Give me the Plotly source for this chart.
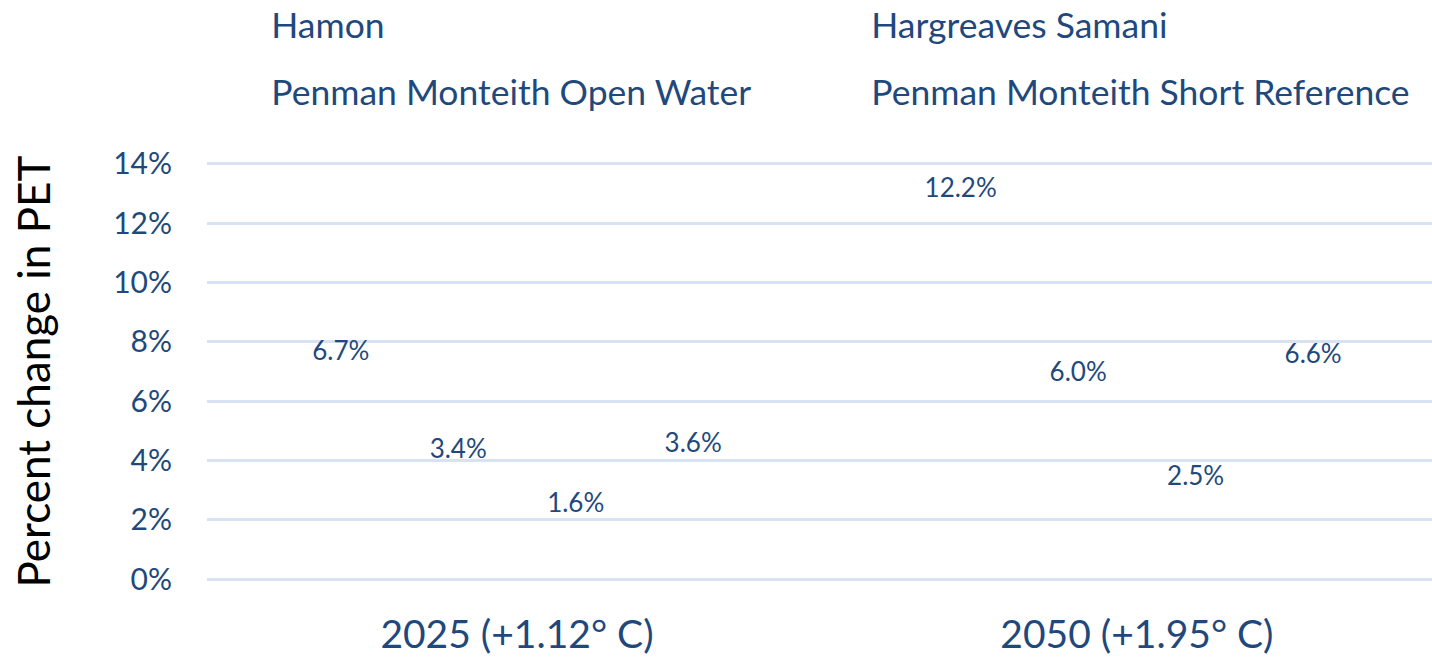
import plotly.graph_objects as go

categories = ["2025 (+1.12° C)", "2050 (+1.95° C)"]
series_names = ["Hamon", "Hargreaves Samani", "Penman Monteith Open Water", "Penman Monteith Short Reference"]
hamon = [6.7, 12.2]
hargreaves = [3.4, 6.0]
pm_open_water = [1.6, 2.5]
pm_short_ref = [3.6, 6.6]
y_ticks = [0, 2, 4, 6, 8, 10, 12, 14]
y_tick_labels = ["0%", "2%", "4%", "6%", "8%", "10%", "12%", "14%"]

series_values = [hamon, hargreaves, pm_open_water, pm_short_ref]
legend_ids = ["legend", "legend2", "legend3", "legend4"]

TEXT = "#1F497D"
GRID = "#D9E2F3"
FONT = "Lato"

fig = go.Figure()
for name, vals, lg in zip(series_names, series_values, legend_ids):
    fig.add_trace(go.Bar(
        x=categories, y=vals, name=name, legend=lg,
        marker=dict(color="rgba(255,255,255,0)", line=dict(width=0)),
        hoverinfo="skip",
    ))
for name, vals in zip(series_names, series_values):
    fig.add_trace(go.Scatter(
        x=categories, y=vals, mode="markers+text", showlegend=False,
        text=[f"{v:.1f}%" for v in vals], textposition="top center",
        textfont=dict(family=FONT, size=26, color=TEXT),
        marker=dict(size=20, color="rgba(0,0,0,0)"),
        cliponaxis=False, hoverinfo="skip",
    ))

legend_pos = {"legend": (0.1615, 0.962), "legend2": (0.5805, 0.962),
              "legend3": (0.1615, 0.860), "legend4": (0.5805, 0.860)}
legend_layout = {}
for lg, (lx, ly) in legend_pos.items():
    legend_layout[lg] = dict(
        orientation="h", xref="container", yref="container",
        x=lx, y=ly, xanchor="left", yanchor="middle",
        font=dict(family=FONT, size=35.5, color=TEXT),
        bgcolor="rgba(0,0,0,0)", itemclick=False, itemdoubleclick=False,
    )

fig.update_layout(
    width=1432, height=657,
    paper_bgcolor="white", plot_bgcolor="white",
    margin=dict(l=207, r=0, t=161, b=75, autoexpand=False),
    barmode="group", bargap=0.242, bargroupgap=0,
    scattermode="group", scattergap=0.242,
    font=dict(family=FONT, color=TEXT),
    **legend_layout,
)
fig.update_xaxes(
    range=[-0.5, 1.476], showgrid=False, showline=False, zeroline=False,
    ticks="", tickfont=dict(family=FONT, size=39, color=TEXT),
    ticklabelstandoff=26,
)
fig.update_yaxes(
    range=[-0.1, 14.1], tickmode="array", tickvals=y_ticks, ticktext=y_tick_labels,
    showgrid=True, gridcolor=GRID, gridwidth=3,
    zeroline=True, zerolinecolor=GRID, zerolinewidth=3, showline=False, ticks="",
    tickfont=dict(family=FONT, size=30, color=TEXT),
    ticklabelstandoff=34,
    title=dict(text="Percent change in PET", standoff=48,
               font=dict(family=FONT, size=44, color="black")),
)

fig.write_html("out.html", config={"displayModeBar": False},
               post_script="document.body.style.margin='0';document.body.style.overflow='hidden';")
